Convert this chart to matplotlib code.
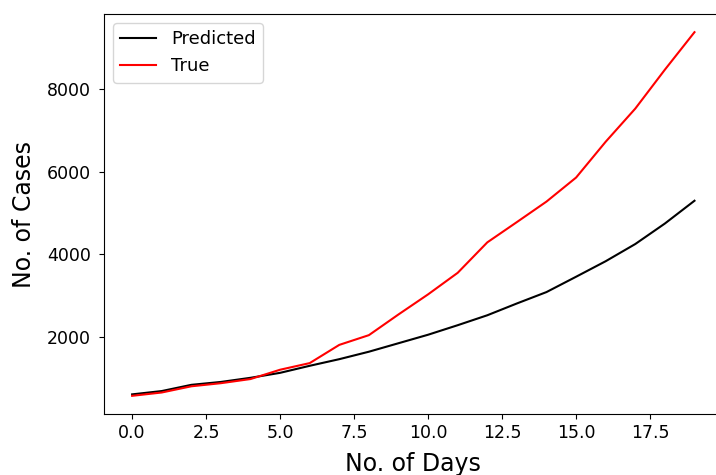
import numpy as np
import matplotlib
matplotlib.use('Agg')
import matplotlib.pyplot as plt

days = np.arange(20)
predicted = [620, 700, 850, 920, 1020, 1140, 1310, 1470, 1650, 1855,
             2060, 2290, 2530, 2815, 3090, 3460, 3835, 4250, 4745, 5295]
true_cases = [585, 665, 815, 890, 990, 1215, 1375, 1815, 2050, 2550,
              3035, 3555, 4290, 4780, 5275, 5855, 6720, 7520, 8460, 9365]

fig = plt.figure(figsize=(7.16, 4.75), dpi=100)
# the reference is cropped on the right and bottom
ax = fig.add_axes([104 / 716, 61 / 475, 618.6 / 716, 400 / 475])

ax.plot(days, predicted, color='k', linewidth=1.5, label='Predicted')
ax.plot(days, true_cases, color='r', linewidth=1.5, label='True')

ax.set_xlabel('No. of Days', fontsize=17, labelpad=7.5)
ax.set_ylabel('No. of Cases', fontsize=17, labelpad=8)
ax.tick_params(labelsize=12.5)
ax.tick_params(axis='y', pad=6)
ax.legend(loc='upper left', fontsize=13)

fig.savefig('out.png', dpi=100)
